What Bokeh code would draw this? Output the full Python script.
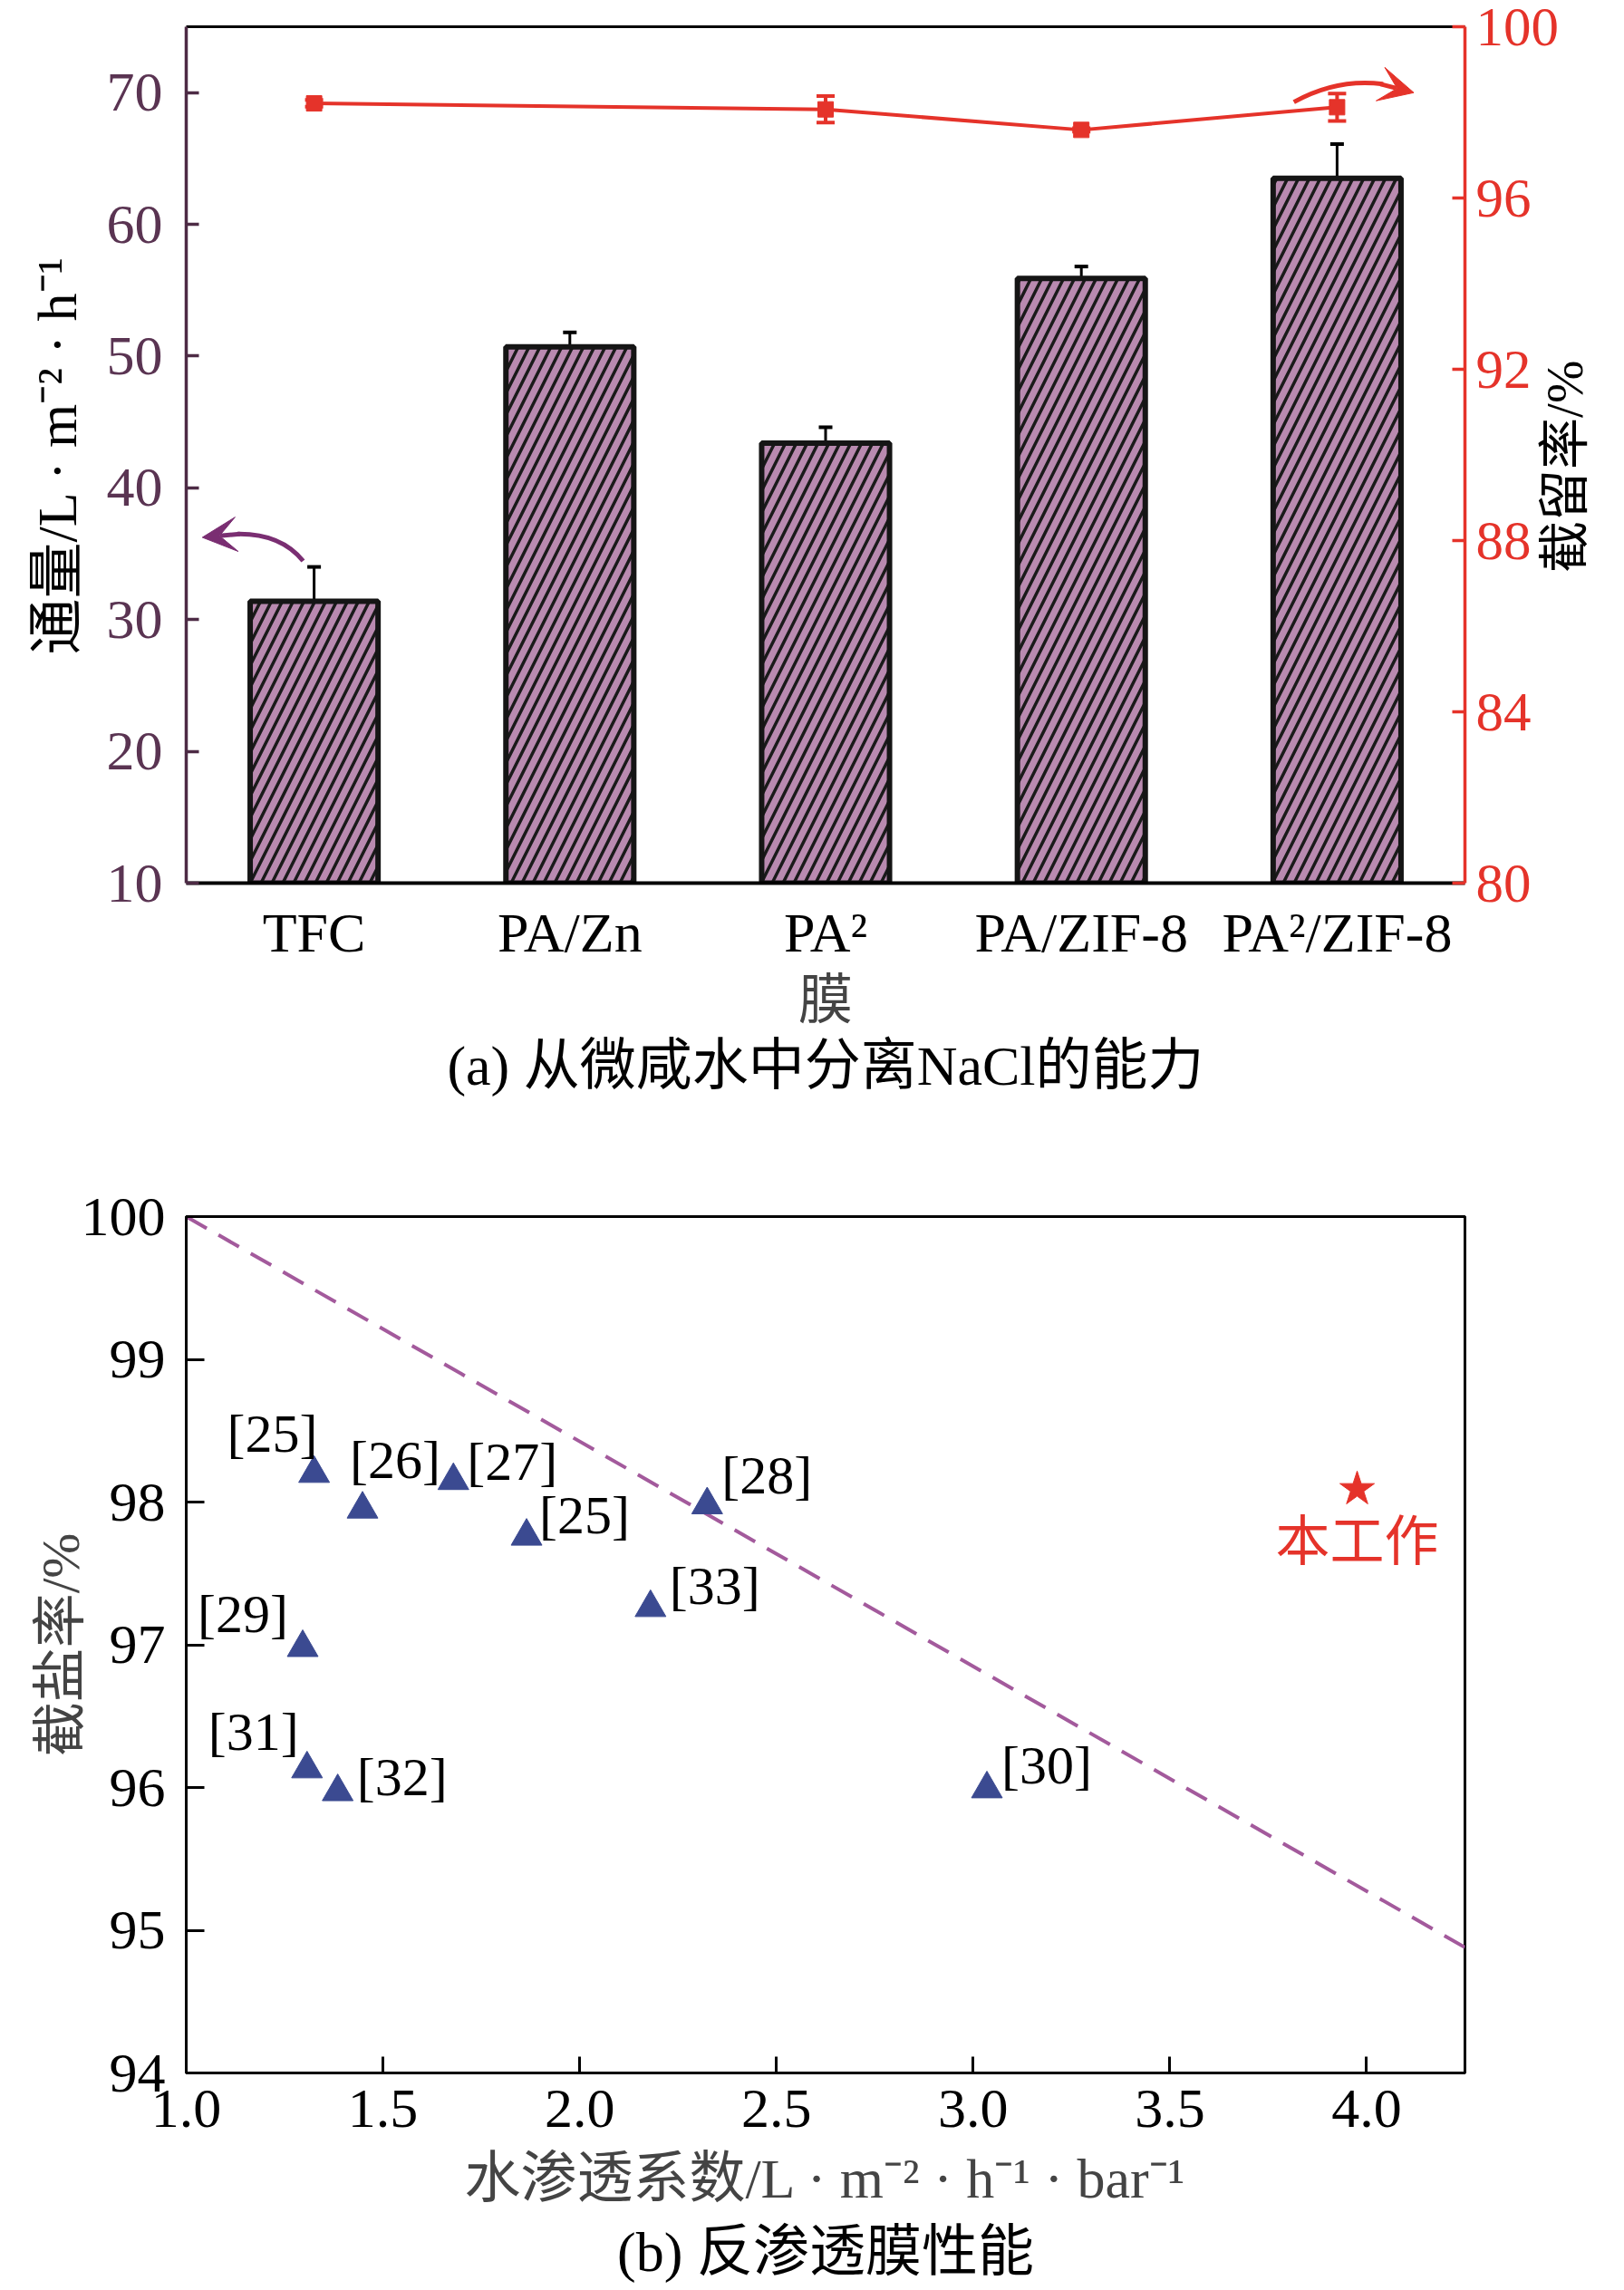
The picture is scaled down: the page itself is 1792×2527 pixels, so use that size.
import math
from bokeh.plotting import figure
from bokeh.models import (Range1d, LinearAxis, FixedTicker, Whisker, TeeHead,
                          ColumnDataSource, Title, Arrow, VeeHead, LabelSet, Label,
                          PrintfTickFormatter)
from bokeh.layouts import column
from bokeh.core.properties import value
from bokeh.embed import file_html
from bokeh.resources import INLINE

# ---------------- data (a) ----------------
membranes = ["TFC", "PA/Zn", "PA²", "PA/ZIF-8", "PA²/ZIF-8"]
flux = [31.4, 50.7, 43.4, 55.9, 63.5]
flux_err = [2.6, 1.1, 1.2, 0.9, 2.6]
rej_membranes = ["TFC", "PA²", "PA/ZIF-8", "PA²/ZIF-8"]
rejection = [98.21, 98.07, 97.59, 98.12]
rejection_err = [0.08, 0.31, 0.04, 0.32]
flux_ticks = [10, 20, 30, 40, 50, 60, 70]
rej_ticks = [80, 84, 88, 92, 96, 100]

# ---------------- data (b) ----------------
ref_labels = ["[25]", "[26]", "[27]", "[25]", "[28]", "[33]", "[29]", "[31]", "[32]", "[30]"]
permeability = [1.325, 1.448, 1.679, 1.865, 2.324, 2.18, 1.296, 1.307, 1.385, 3.035]
salt_rejection = [98.20, 97.95, 98.15, 97.76, 97.98, 97.26, 96.98, 96.13, 95.97, 95.99]
this_work_perm = [3.976]
this_work_rej = [98.09]
trade_perm = [1.0, 4.25]
trade_rej = [100.0, 94.88]
perm_ticks = [1.0, 1.5, 2.0, 2.5, 3.0, 3.5, 4.0]
salt_ticks = [94, 95, 96, 97, 98, 99, 100]

# label offsets (screen px) for the reference labels
label_dx = [-46, 36, 65, 64, 66, 71, -66, -59, 71, 66]
label_dy = [44, 54, 21, 23, 33, 24, 37, 41, 16, 26]

FONT = "Liberation Serif, Noto Sans CJK SC, serif"
PURPLE_AXIS = "#4d2b45"
PURPLE_TICK = "#5a3452"
RED = "#e5332a"
MAUVE = "#b98ab0"
ARROW_PURPLE = "#7a2e72"
NAVY = "#3b4a91"
DASH = "#a35a9c"
W = 1792

# ======================= figure (a) =======================
p1 = figure(width=W, height=1250, output_backend="svg", toolbar_location=None,
            x_range=Range1d(-0.5, len(membranes) - 0.5), y_range=Range1d(10, 75),
            min_border_left=205, min_border_right=165, min_border_top=29,
            min_border_bottom=276)
p1.extra_y_ranges = {"rej": Range1d(80, 100)}
p1.outline_line_color = None
p1.grid.visible = False
p1.background_fill_color = "white"
p1.border_fill_color = "white"

ya = p1.yaxis[0]
ya.ticker = FixedTicker(ticks=flux_ticks)
ya.axis_line_color = PURPLE_AXIS
ya.axis_line_width = 3.5
ya.major_tick_in = 14
ya.major_tick_out = 0
ya.major_tick_line_color = PURPLE_AXIS
ya.major_tick_line_width = 3.5
ya.minor_tick_line_color = None
ya.major_label_text_color = PURPLE_TICK
ya.major_label_text_font = FONT
ya.major_label_text_font_size = "62px"
ya.major_label_standoff = 26
ya.axis_label = "通量/L · m⁻² · h⁻¹"
ya.axis_label_text_font = FONT
ya.axis_label_text_font_size = "62px"
ya.axis_label_text_font_style = "normal"
ya.axis_label_text_color = "black"
ya.axis_label_standoff = 18

xa = p1.xaxis[0]
idx = list(range(len(membranes)))
xa.ticker = FixedTicker(ticks=idx)
xa.major_label_overrides = {i: m for i, m in enumerate(membranes)}
xa.major_tick_line_color = None
xa.minor_tick_line_color = None
xa.axis_line_color = "black"
xa.axis_line_width = 4
xa.major_label_text_font = FONT
xa.major_label_text_font_size = "62px"
xa.major_label_text_color = "black"
xa.major_label_standoff = 14
xa.axis_label = "膜"
xa.axis_label_text_font = FONT
xa.axis_label_text_font_size = "60px"
xa.axis_label_text_font_style = "normal"
xa.axis_label_standoff = 5

ax_top = LinearAxis(ticker=FixedTicker(ticks=[]), axis_line_color="black", axis_line_width=3,
                    major_tick_line_color=None, minor_tick_line_color=None,
                    major_label_text_font_size="0px")
p1.add_layout(ax_top, "above")

rej_range = p1.extra_y_ranges["rej"]
ax_r = LinearAxis(y_range_name="rej", ticker=FixedTicker(ticks=rej_ticks),
                  axis_line_color=RED, axis_line_width=3.5,
                  major_tick_in=14, major_tick_out=0, major_tick_line_color=RED,
                  major_tick_line_width=3.5, minor_tick_line_color=None,
                  major_label_text_color=RED, major_label_text_font=FONT,
                  major_label_text_font_size="61px", major_label_standoff=12)
p1.add_layout(ax_r, "right")

# right axis title, drawn as the single (rotated) label of a bare outer axis;
# the rotated label starts at its tick, so the tick sits low enough to centre it
title_anchor = 87.25
ax_r_title = LinearAxis(y_range_name="rej", ticker=FixedTicker(ticks=[title_anchor]),
                        major_label_overrides={title_anchor: "截留率/%"},
                        major_label_orientation=math.pi / 2,
                        axis_line_color=None, major_tick_line_color=None,
                        minor_tick_line_color=None, major_tick_in=0, major_tick_out=0,
                        major_label_standoff=3, major_label_text_font=FONT,
                        major_label_text_font_size="57px", major_label_text_color="black")
p1.add_layout(ax_r_title, "right")

bar_src = ColumnDataSource(dict(
    x=idx, top=flux,
    upper=[f + e for f, e in zip(flux, flux_err)],
    lower=[f - e for f, e in zip(flux, flux_err)]))
p1.vbar(x="x", top="top", bottom=p1.y_range.start, width=0.5, source=bar_src,
        fill_color=MAUVE, line_color="#151515", line_width=6,
        hatch_pattern="/", hatch_color="#1a1a1a", hatch_weight=3.5, hatch_scale=24)
p1.add_layout(Whisker(source=bar_src, base="x", upper="upper", lower="lower",
                      line_color="black", line_width=3,
                      upper_head=TeeHead(size=15, line_color="black", line_width=4),
                      lower_head=TeeHead(size=15, line_color="black", line_width=4)))

rix = [membranes.index(m) for m in rej_membranes]
rej_src = ColumnDataSource(dict(
    x=rix, y=rejection,
    upper=[r + e for r, e in zip(rejection, rejection_err)],
    lower=[r - e for r, e in zip(rejection, rejection_err)]))
p1.line("x", "y", source=rej_src, y_range_name="rej", line_color=RED, line_width=4)
p1.scatter("x", "y", source=rej_src, y_range_name="rej", marker="square", size=17,
           fill_color=RED, line_color=RED)
p1.add_layout(Whisker(source=rej_src, base="x", upper="upper", lower="lower",
                      y_range_name="rej", line_color=RED, line_width=4,
                      upper_head=TeeHead(size=20, line_color=RED, line_width=4),
                      lower_head=TeeHead(size=20, line_color=RED, line_width=4)))

# curved arrow towards left axis (anchored at TFC error bar top)
ax0, ay0 = idx[0], flux[0] + flux_err[0]
p1.quadratic(x0=[ax0 - 0.043], y0=[ay0 + 0.45], x1=[ax0 - 0.30], y1=[ay0 + 2.5],
             cx=[ax0 - 0.13], cy=[ay0 + 2.55], line_color=ARROW_PURPLE, line_width=5)
p1.add_layout(Arrow(x_start=ax0 - 0.29, y_start=ay0 + 2.5, x_end=ax0 - 0.437, y_end=ay0 + 2.24,
                    line_color=ARROW_PURPLE, line_width=5,
                    end=VeeHead(size=38, fill_color=ARROW_PURPLE, line_color=ARROW_PURPLE)))

# curved arrow towards right axis (anchored at last rejection point)
bx0, by0 = rix[-1], rejection[-1] + rejection_err[-1]
p1.quadratic(x0=[bx0 - 0.169], y0=[by0 - 0.2], x1=[bx0 + 0.18], y1=[by0 + 0.22],
             cx=[bx0 + 0.0], cy=[by0 + 0.36], y_range_name="rej",
             line_color=RED, line_width=5)
p1.add_layout(Arrow(x_start=bx0 + 0.17, y_start=by0 + 0.22, x_end=bx0 + 0.30, y_end=by0 + 0.02,
                    y_range_name="rej", line_color=RED, line_width=5,
                    end=VeeHead(size=38, fill_color=RED, line_color=RED)))

p1.add_layout(Title(text="(a) 从微咸水中分离NaCl的能力", align="center", text_font=FONT,
                    text_font_size="62px", text_font_style="normal", text_color="black",
                    standoff=0), "below")

# ======================= figure (b) =======================
p2 = figure(width=W, height=1277, output_backend="svg", toolbar_location=None,
            x_range=Range1d(trade_perm[0], trade_perm[-1]), y_range=Range1d(94, 100),
            min_border_left=205, min_border_right=163, min_border_top=92,
            min_border_bottom=240)
p2.grid.visible = False
p2.outline_line_color = "black"
p2.outline_line_width = 3
p2.background_fill_color = "white"
p2.border_fill_color = "white"

xb = p2.xaxis[0]
xb.ticker = FixedTicker(ticks=perm_ticks)
xb.formatter = PrintfTickFormatter(format="%.1f")
xb.axis_line_color = "black"
xb.axis_line_width = 3
xb.major_tick_in = 18
xb.major_tick_out = 0
xb.major_tick_line_color = "black"
xb.major_tick_line_width = 3
xb.minor_tick_line_color = None
xb.major_label_text_font = FONT
xb.major_label_text_font_size = "62px"
xb.major_label_text_color = "black"
xb.major_label_standoff = 19
xb.axis_label = "水渗透系数/L · m⁻² · h⁻¹ · bar⁻¹"
xb.axis_label_text_font = FONT
xb.axis_label_text_font_size = "62px"
xb.axis_label_text_font_style = "normal"
xb.axis_label_standoff = 20

yb = p2.yaxis[0]
yb.ticker = FixedTicker(ticks=salt_ticks)
yb.axis_line_color = "black"
yb.axis_line_width = 3
yb.major_tick_in = 20
yb.major_tick_out = 0
yb.major_tick_line_color = "black"
yb.major_tick_line_width = 3
yb.minor_tick_line_color = None
yb.major_label_text_font = FONT
yb.major_label_text_font_size = "62px"
yb.major_label_text_color = "black"
yb.major_label_standoff = 23
yb.axis_label = "截盐率/%"
yb.axis_label_text_font = FONT
yb.axis_label_text_font_size = "60px"
yb.axis_label_text_font_style = "normal"
yb.axis_label_standoff = -13

p2.line(trade_perm, trade_rej, line_color=DASH, line_width=4, line_dash="26 15")

pts = ColumnDataSource(dict(x=permeability, y=salt_rejection, text=ref_labels,
                            xo=label_dx, yo=label_dy))
p2.scatter("x", "y", source=pts, marker="triangle", size=34, fill_color=NAVY, line_color=NAVY)
p2.add_layout(LabelSet(x="x", y="y", text="text", x_offset="xo", y_offset="yo", source=pts,
                       text_font=value(FONT), text_font_size="60px", text_color="black",
                       text_align="center", text_baseline="middle"))

p2.scatter(this_work_perm, this_work_rej, marker="star", size=40, fill_color=RED, line_color=RED)
p2.add_layout(Label(x=this_work_perm[0], y=this_work_rej[0], y_offset=-59, text="本工作",
                    text_color=RED, text_font=FONT, text_font_size="60px",
                    text_align="center", text_baseline="middle"))

p2.add_layout(Title(text="(b) 反渗透膜性能", align="center", text_font=FONT,
                    text_font_size="62px", text_font_style="normal", text_color="black",
                    standoff=16), "below")

layout = column(p1, p2)
open("out.html", "w").write(file_html(layout, INLINE))
